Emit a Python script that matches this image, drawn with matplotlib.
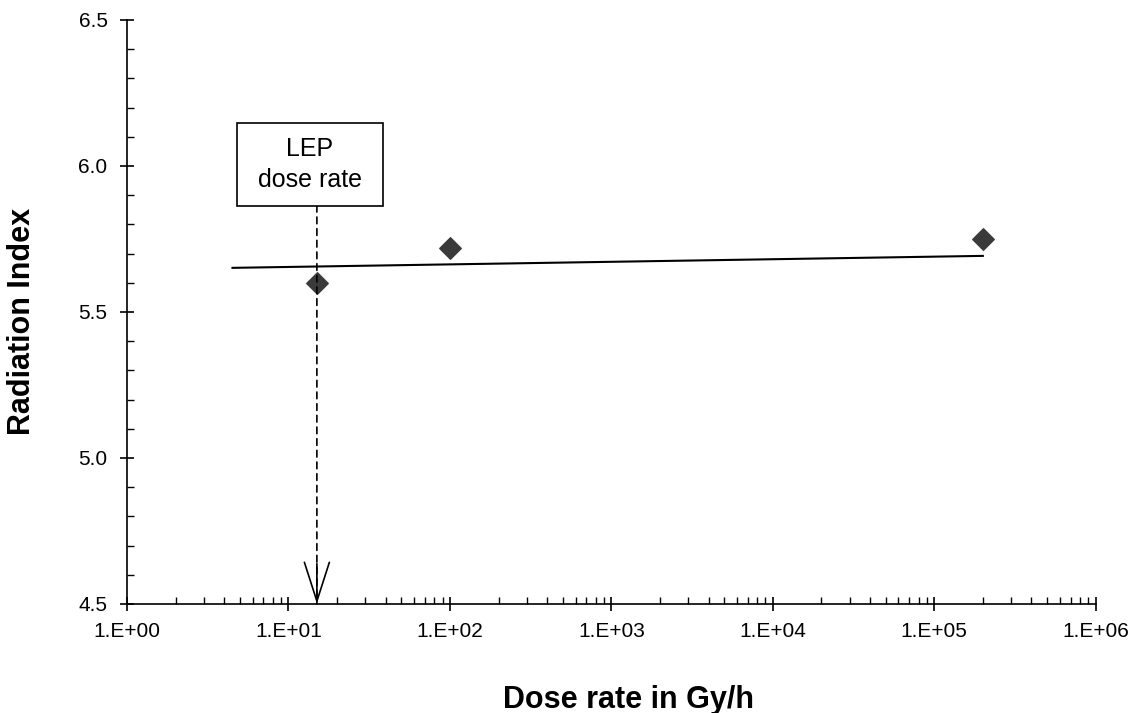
import matplotlib
matplotlib.use("Agg")
import matplotlib.pyplot as plt
from matplotlib.ticker import FixedLocator, LogLocator, NullFormatter, MultipleLocator

plt.rcParams["font.family"] = ["Liberation Sans", "DejaVu Sans"]

# data
dose_rate = [15, 100, 2.0e5]
radiation_index = [5.60, 5.72, 5.75]
trend_x = [4.5, 2.0e5]
trend_y = [5.651, 5.692]
lep_dose_rate = 15
x_ticks = [1e0, 1e1, 1e2, 1e3, 1e4, 1e5, 1e6]
x_tick_labels = ["1.E+00", "1.E+01", "1.E+02", "1.E+03", "1.E+04", "1.E+05", "1.E+06"]
y_ticks = [4.5, 5.0, 5.5, 6.0, 6.5]

fig = plt.figure(figsize=(11.39, 7.13), dpi=100)
ax = fig.add_axes([0.1115, 0.153, 0.8505, 0.819])

ax.set_xscale("log")
ax.set_xlim(1, 1e6)
ax.set_ylim(4.5, 6.5)

ax.plot(trend_x, trend_y, color="black", linewidth=1.5, zorder=2)
ax.scatter(dose_rate, radiation_index, marker="D", s=120, color="#3a3a3a", zorder=3)

# LEP annotation: dashed line down to the axis, open solid arrowhead
ax.annotate("", xy=(lep_dose_rate, 4.5), xytext=(lep_dose_rate, 5.865),
            arrowprops=dict(arrowstyle="-", linestyle=(0, (4, 3)),
                            color="black", lw=1.2, shrinkA=0, shrinkB=0),
            zorder=4)
ax.annotate("", xy=(lep_dose_rate, 4.5), xytext=(0, 29), textcoords="offset points",
            arrowprops=dict(arrowstyle="->,head_length=1.4,head_width=0.45",
                            mutation_scale=20, color="black", lw=1.2,
                            shrinkA=0, shrinkB=0),
            zorder=4)
ax.text(13.6, 6.005, "LEP\n dose rate ", ha="center", va="center",
        multialignment="center", fontsize=18, linespacing=1.35,
        bbox=dict(boxstyle="square,pad=0.55", facecolor="white",
                  edgecolor="black", linewidth=1.2), zorder=5)

ax.set_xticks(x_ticks)
ax.set_xticklabels(x_tick_labels)
ax.xaxis.set_minor_locator(LogLocator(base=10, subs=range(2, 10), numticks=20))
ax.xaxis.set_minor_formatter(NullFormatter())
ax.yaxis.set_major_locator(FixedLocator(y_ticks))
ax.yaxis.set_major_formatter(plt.FuncFormatter(lambda v, p: f"{v:.1f}"))
ax.yaxis.set_minor_locator(MultipleLocator(0.1))

ax.tick_params(which="major", direction="inout", length=10, width=1.2,
               labelsize=15, pad=8)
ax.tick_params(which="minor", direction="in", length=5, width=1)
ax.tick_params(axis="y", which="major", pad=9)

for side in ["top", "right"]:
    ax.spines[side].set_visible(False)
for side in ["left", "bottom"]:
    ax.spines[side].set_linewidth(1.2)

ax.set_xlabel("Dose rate in Gy/h", fontsize=22, fontweight="bold")
ax.set_ylabel("Radiation Index", fontsize=22, fontweight="bold")
ax.xaxis.set_label_coords(0.518, -0.164)
ax.yaxis.set_label_coords(-0.108, 0.483)
ax.xaxis.label.set_va("center")
ax.yaxis.label.set_va("center")

fig.savefig("out.png", dpi=100)
